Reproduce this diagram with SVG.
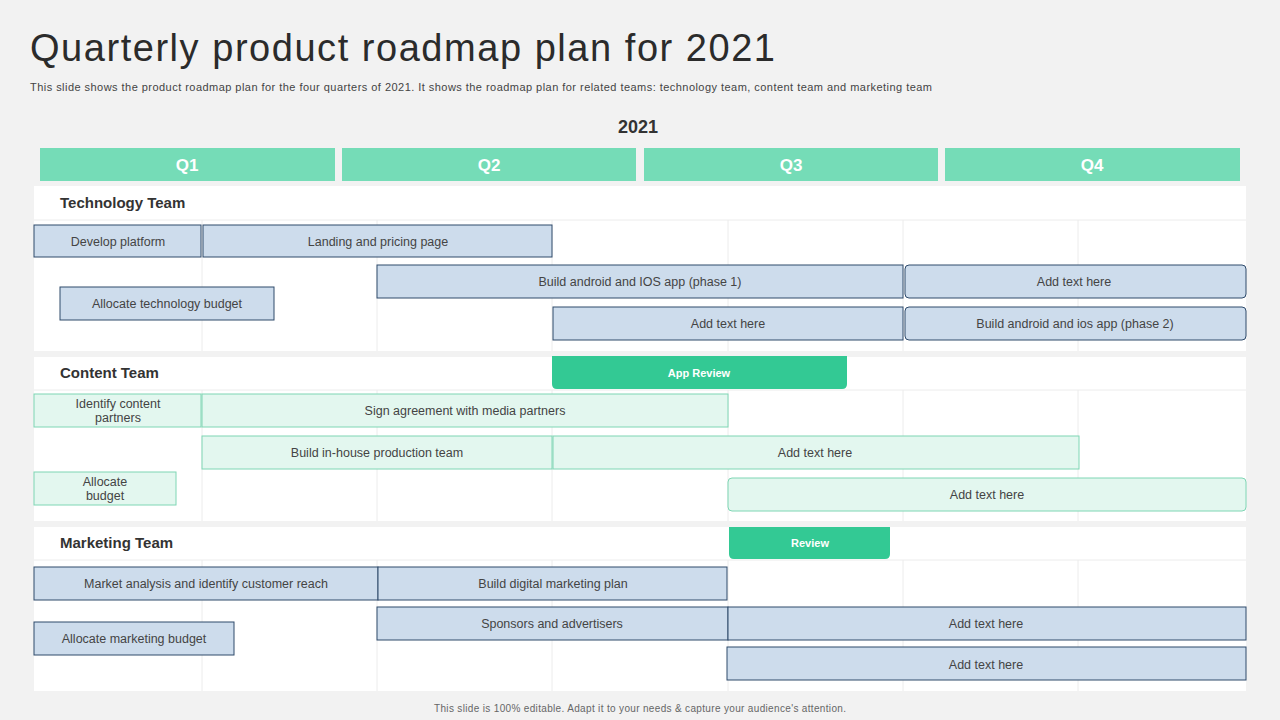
<svg xmlns="http://www.w3.org/2000/svg" width="1280" height="720" viewBox="0 0 1280 720">
<style>
text{font-family:"Liberation Sans",Arial,sans-serif}
.t{font-size:12.5px;fill:#444;text-anchor:middle}
.b{fill:#cddcec;stroke:#2e4a6b;stroke-width:1}
.g{fill:#e3f7ef;stroke:#7fd6b4;stroke-width:1}
.q{fill:#75dcb7}
.qt{font-size:17px;font-weight:bold;fill:#fff;text-anchor:middle}
.h{font-size:15px;font-weight:bold;fill:#333}
.grid{stroke:#ececec;stroke-width:1}
.rv{fill:#33c994}
.rt{font-size:11px;font-weight:bold;fill:#fff;text-anchor:middle}
</style>
<rect width="1280" height="720" fill="#f2f2f2"/>
<text x="30" y="61" font-size="38" fill="#2b2b2b" textLength="745">Quarterly product roadmap plan for 2021</text>
<text x="30" y="91" font-size="11" fill="#444" textLength="902">This slide shows the product roadmap plan for the four quarters of 2021. It shows the roadmap plan for related teams: technology team, content team and marketing team</text>
<text x="638" y="133" font-size="18" font-weight="bold" fill="#333" text-anchor="middle">2021</text>
<g id="quarters">
<rect class="q" x="40" y="148" width="295" height="33"/><text class="qt" x="187" y="171">Q1</text>
<rect class="q" x="342" y="148" width="294" height="33"/><text class="qt" x="489" y="171">Q2</text>
<rect class="q" x="644" y="148" width="294" height="33"/><text class="qt" x="791" y="171">Q3</text>
<rect class="q" x="945" y="148" width="295" height="33"/><text class="qt" x="1092" y="171">Q4</text>
</g>
<g id="panels">
<rect x="34" y="186" width="1212" height="165" fill="#fff"/>
<rect x="34" y="357" width="1212" height="164" fill="#fff"/>
<rect x="34" y="527" width="1212" height="164" fill="#fff"/>
<g class="grid">
<line x1="34" y1="220" x2="1246" y2="220"/><line x1="34" y1="390" x2="1246" y2="390"/><line x1="34" y1="560" x2="1246" y2="560"/>
<path d="M202 220V351M377 220V351M552 220V351M728 220V351M903 220V351M1078 220V351"/>
<path d="M202 390V521M377 390V521M552 390V521M728 390V521M903 390V521M1078 390V521"/>
<path d="M202 560V691M377 560V691M552 560V691M728 560V691M903 560V691M1078 560V691"/>
</g>
<text class="h" x="60" y="208">Technology Team</text>
<text class="h" x="60" y="378">Content Team</text>
<text class="h" x="60" y="548">Marketing Team</text>
</g>
<g id="tech">
<g id="n1"><rect class="b" x="34" y="225" width="167" height="32"/><text class="t" x="118" y="246">Develop platform</text></g>
<g id="n2"><rect class="b" x="203" y="225" width="349" height="32"/><text class="t" x="378" y="246">Landing and pricing page</text></g>
<g id="n3"><rect class="b" x="377" y="265" width="526" height="33"/><text class="t" x="640" y="286">Build android and IOS app (phase 1)</text></g>
<g id="n4"><rect class="b" x="905" y="265" width="341" height="33" rx="4"/><text class="t" x="1074" y="286">Add text here</text></g>
<g id="n5"><rect class="b" x="60" y="287" width="214" height="33"/><text class="t" x="167" y="308">Allocate technology budget</text></g>
<g id="n6"><rect class="b" x="553" y="307" width="350" height="33"/><text class="t" x="728" y="328">Add text here</text></g>
<g id="n7"><rect class="b" x="905" y="307" width="341" height="33" rx="4"/><text class="t" x="1075" y="328">Build android and ios app (phase 2)</text></g>
</g>
<g id="content">
<g id="r1"><path class="rv" d="M552 356H847V384Q847 389 842 389H557Q552 389 552 384Z"/><text class="rt" x="699" y="377">App Review</text></g>
<g id="c1"><rect class="g" x="34" y="394" width="167" height="33"/><text class="t" x="118" y="408">Identify content</text><text class="t" x="118" y="422">partners</text></g>
<g id="c2"><rect class="g" x="202" y="394" width="526" height="33"/><text class="t" x="465" y="415">Sign agreement with media partners</text></g>
<g id="c3"><rect class="g" x="202" y="436" width="350" height="33"/><text class="t" x="377" y="457">Build in-house production team</text></g>
<g id="c4"><rect class="g" x="553" y="436" width="526" height="33"/><text class="t" x="815" y="457">Add text here</text></g>
<g id="c5"><rect class="g" x="34" y="472" width="142" height="33"/><text class="t" x="105" y="486">Allocate</text><text class="t" x="105" y="500">budget</text></g>
<g id="c6"><rect class="g" x="728" y="478" width="518" height="33" rx="4"/><text class="t" x="987" y="499">Add text here</text></g>
</g>
<g id="marketing">
<g id="r2"><path class="rv" d="M729 527H890V554Q890 559 885 559H734Q729 559 729 554Z"/><text class="rt" x="810" y="547">Review</text></g>
<g id="m1"><rect class="b" x="34" y="567" width="344" height="33"/><text class="t" x="206" y="588">Market analysis and identify customer reach</text></g>
<g id="m2"><rect class="b" x="378" y="567" width="349" height="33"/><text class="t" x="553" y="588">Build digital marketing plan</text></g>
<g id="m3"><rect class="b" x="377" y="607" width="351" height="33"/><text class="t" x="552" y="628">Sponsors and advertisers</text></g>
<g id="m4"><rect class="b" x="728" y="607" width="518" height="33"/><text class="t" x="986" y="628">Add text here</text></g>
<g id="m5"><rect class="b" x="34" y="622" width="200" height="33"/><text class="t" x="134" y="643">Allocate marketing budget</text></g>
<g id="m6"><rect class="b" x="727" y="647" width="519" height="33"/><text class="t" x="986" y="669">Add text here</text></g>
</g>
<g id="connectors"/>
<text x="640" y="712" font-size="10" fill="#666" text-anchor="middle" textLength="412">This slide is 100% editable.  Adapt it to your needs &amp; capture your audience's attention.</text>
</svg>
